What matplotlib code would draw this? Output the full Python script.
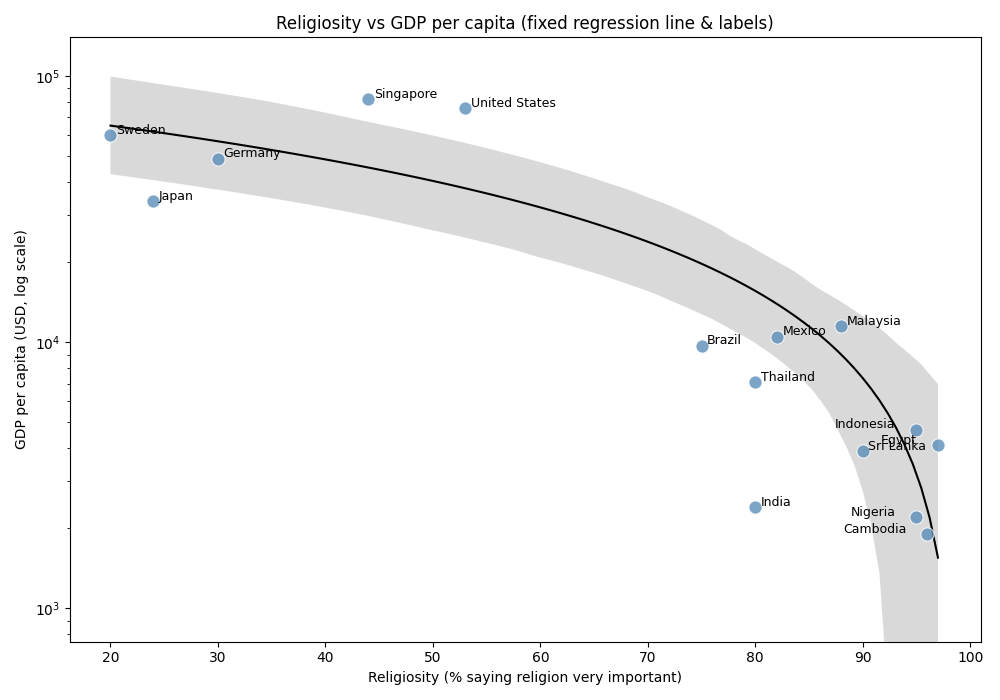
import matplotlib
matplotlib.use('Agg')
import matplotlib.pyplot as plt
import seaborn as sns
import numpy as np

countries = ['Sweden', 'Japan', 'Germany', 'Singapore', 'United States', 'Brazil',
             'Thailand', 'India', 'Mexico', 'Malaysia', 'Sri Lanka', 'Indonesia',
             'Nigeria', 'Egypt', 'Cambodia']
religiosity = [20, 24, 30, 44, 53, 75, 80, 80, 82, 88, 90, 95, 95, 97, 96]
gdp = [60000, 34000, 49000, 82000, 76000, 9700, 7100, 2400, 10500, 11500,
       3900, 4700, 2200, 4100, 1900]
left_labels = ['Indonesia', 'Nigeria', 'Egypt', 'Cambodia']

fig, ax = plt.subplots(figsize=(10, 7), dpi=100)
sns.regplot(x=religiosity, y=gdp, ax=ax, scatter=False, color='black',
            line_kws={'linewidth': 1.5}, seed=0)
for coll in ax.collections:
    coll.set_facecolor('#d3d3d3')
    coll.set_alpha(0.85)
ax.scatter(religiosity, gdp, s=90, color='#5b8db8', alpha=0.8, edgecolor='white',
           linewidth=0.8, zorder=3)
for name, x, y in zip(countries, religiosity, gdp):
    if name in left_labels:
        ax.annotate(name, (x, y), xytext=(-15, 1), textcoords='offset points',
                    ha='right', fontsize=9)
    else:
        ax.annotate(name, (x, y), xytext=(4, 1), textcoords='offset points',
                    ha='left', fontsize=9)
ax.set_yscale('log')
ax.set_ylim(750, 140000)
ax.set_xlim(16.2, 101)
ax.set_title('Religiosity vs GDP per capita (fixed regression line & labels)')
ax.set_xlabel('Religiosity (% saying religion very important)')
ax.set_ylabel('GDP per capita (USD, log scale)')
plt.tight_layout()
plt.savefig('out.png', dpi=100)
